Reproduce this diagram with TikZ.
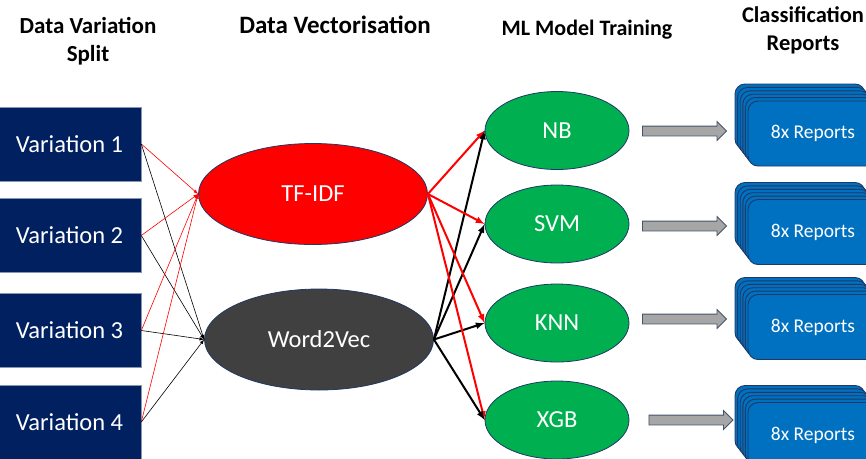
\documentclass[tikz,border=0pt]{standalone}
\usepackage{fontspec}
\setmainfont{Carlito}
\usepackage{xcolor}
\usetikzlibrary{arrows,shapes.geometric,shapes.arrows}
\definecolor{navybox}{HTML}{002060}
\definecolor{boxedge}{HTML}{8497B0}
\definecolor{tfred}{HTML}{FF0000}
\definecolor{wvgray}{HTML}{404040}
\definecolor{mlgreen}{HTML}{00B050}
\definecolor{repblue}{HTML}{0070C0}
\definecolor{darkedge}{HTML}{1F3864}
\definecolor{arrgray}{HTML}{A6A6A6}
\definecolor{arredge}{HTML}{44546A}
\tikzset{>=latex}
\tikzset{
  heading/.style={align=center,inner sep=0pt,font=\fontsize{22.5}{28}\selectfont\bfseries},
  varbox/.style={fill=navybox,draw=boxedge,line width=0.6pt,text=white,
    minimum width=143pt,minimum height=74pt,inner sep=0pt,font=\fontsize{24.5}{28}\selectfont},
  vecnode/.style={ellipse,draw=darkedge,line width=0.8pt,text=white,inner sep=0pt,
    minimum width=229pt,minimum height=101pt,font=\fontsize{24.5}{28}\selectfont},
  mlnode/.style={ellipse,fill=mlgreen,draw=darkedge,line width=0.8pt,text=white,inner sep=0pt,
    minimum width=144pt,minimum height=78pt,font=\fontsize{24.5}{28}\selectfont},
  blockarr/.style={single arrow,fill=arrgray,draw=arredge,line width=0.8pt,
    minimum height=84pt,minimum width=18pt,inner sep=4.5pt,
    single arrow head extend=4.5pt,single arrow tip angle=90},
  card/.style={rectangle,rounded corners=10pt,fill=repblue,draw=darkedge,line width=0.9pt,
    minimum width=130pt,minimum height=65pt,inner sep=0pt,text=white,
    font=\fontsize{19.5}{24}\selectfont},
  thinred/.style={->,tfred,line width=0.6pt},
  thinblack/.style={->,black,line width=0.6pt},
  thickred/.style={->,tfred,line width=2pt},
  thickblack/.style={->,black,line width=2pt}
}

\begin{document}
\begin{tikzpicture}[x=1pt,y=-1pt]
  \useasboundingbox (0,0) rectangle (866,458);
  \clip (0,0) rectangle (866,458);

  % column headings
  \node[heading,font=\fontsize{23}{28}\selectfont\bfseries] (hsplit) at (88,41) {Data Variation\\Split};
  \node[heading,font=\fontsize{25}{28}\selectfont\bfseries] (hvec) at (335,25) {Data Vectorisation};
  \node[heading,font=\fontsize{22}{25}\selectfont\bfseries] (htrain) at (587,30) {ML Model Training};
  \node[heading] (hrep) at (803,30) {Classification\\Reports};

  % data variations
  \node[varbox] (v1) at (69.5,144) {Variation 1};
  \node[varbox] (v2) at (69.5,235.5) {Variation 2};
  \node[varbox] (v3) at (69.5,330.5) {Variation 3};
  \node[varbox] (v4) at (69.5,422) {Variation 4};

  % vectorisers
  \node[vecnode,fill=tfred] (tfidf) at (313,194) {TF-IDF};
  \node[vecnode,fill=wvgray] (w2v) at (319,339.5) {Word2Vec};

  % models
  \node[mlnode] (nb) at (557,130.5) {NB};
  \node[mlnode] (svm) at (557,224) {SVM};
  \node[mlnode] (knn) at (557,323) {KNN};
  \node[mlnode] (xgb) at (557,420) {XGB};

  % variations into both vectorisers
  \foreach \v in {v1,v2,v3,v4} {
    \draw[thinred] (\v.east) -- (tfidf.west);
    \draw[thinblack] (\v.east) -- (w2v.west);
  }

  % vectorisers into models
  \foreach \m in {nb,svm,knn,xgb} {
    \draw[thickred] (tfidf.east) -- (\m.west);
    \draw[thickblack] (w2v.east) -- (\m.west);
  }

  % block arrows
  \node[blockarr] (a1) at (682,131) {};
  \node[blockarr] (a2) at (682,226) {};
  \node[blockarr] (a3) at (682,319) {};
  \node[blockarr] (a4) at (688.5,420) {};

  % stacked report cards
  \foreach \y/\r in {133.5/r1,232/r2,327/r3,435/r4} {
    \foreach \k in {5,4,...,1}
      \node[card] at (813-\k*2.6,\y-\k*3.4) {};
    \node[card] (\r) at (813,\y) {8x Reports};
  }
\end{tikzpicture}
\end{document}
